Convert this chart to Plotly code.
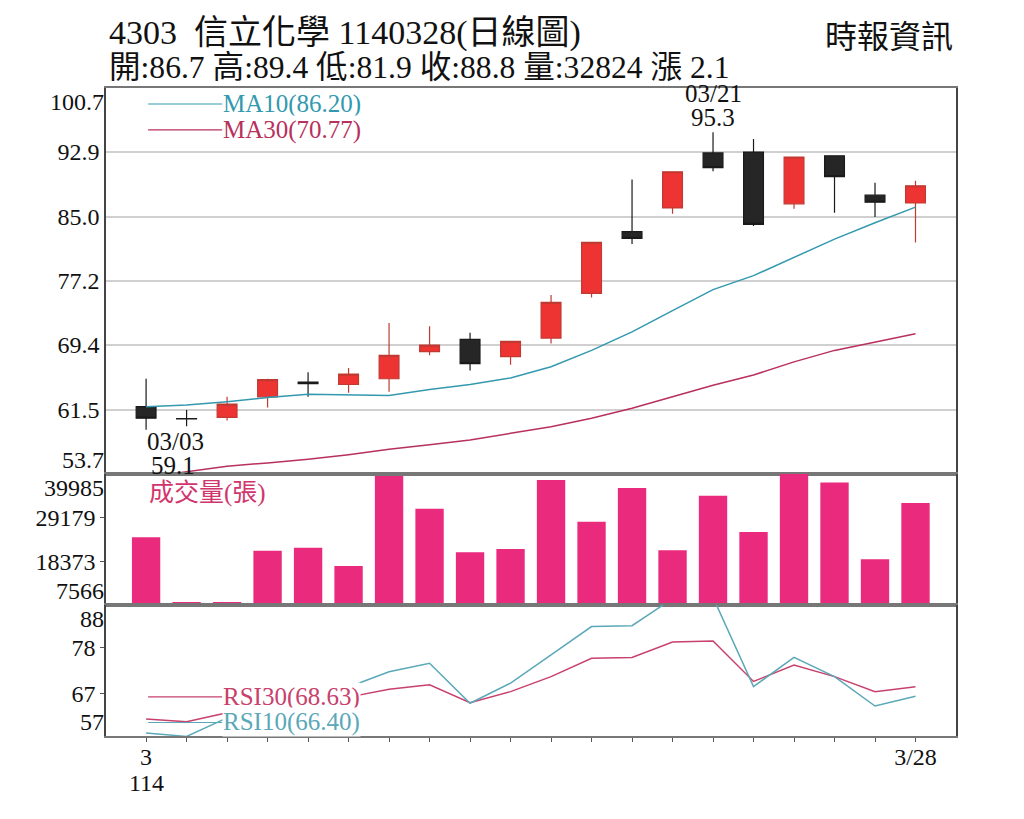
import plotly.graph_objects as go
from plotly.subplots import make_subplots

# 信立化學 (4303) daily, 2025-03 (ROC 114)
dates = ["03/03", "03/04", "03/05", "03/06", "03/07", "03/10", "03/11", "03/12", "03/13", "03/14",
         "03/17", "03/18", "03/19", "03/20", "03/21", "03/24", "03/25", "03/26", "03/27", "03/28"]
open_ = [61.9, 60.45, 60.6, 63.1, 64.9, 64.6, 65.3, 68.6, 70.1, 68.0,
         70.25, 75.7, 83.2, 86.1, 92.8, 92.9, 86.6, 92.45, 87.65, 86.7]
high = [65.3, 61.5, 63.1, 65.3, 66.1, 66.6, 72.1, 71.7, 70.9, 69.9,
        75.5, 81.9, 89.55, 90.5, 95.3, 94.5, 92.3, 92.45, 89.15, 89.4]
low = [59.1, 59.5, 60.2, 61.8, 63.1, 63.6, 63.7, 68.15, 66.3, 67.0,
       69.6, 75.2, 81.7, 85.4, 90.55, 83.9, 86.0, 85.5, 85.0, 81.9]
close = [60.5, 60.4, 62.2, 65.2, 64.7, 65.85, 68.15, 69.4, 67.15, 69.85,
         74.6, 81.9, 82.4, 90.5, 91.0, 84.1, 92.3, 89.9, 86.8, 88.8]
ma10 = [61.9, 62.1, 62.5, 63.0, 63.4, 63.3, 63.25, 64.0, 64.6, 65.4,
        66.75, 68.75, 71.0, 73.6, 76.15, 77.85, 80.05, 82.3, 84.3, 86.2]
ma30 = [53.3, 54.0, 54.65, 55.05, 55.5, 56.05, 56.7, 57.25, 57.85, 58.65,
        59.45, 60.5, 61.7, 63.1, 64.5, 65.75, 67.35, 68.75, 69.8, 70.77]
volume = [24306, 8308, 8308, 20996, 21736, 17211, 39500, 31381, 20599, 21415,
          38478, 28166, 36500, 21093, 34596, 25619, 40500, 37909, 18868, 32824]
rsi30 = [61.0, 60.4, 62.5, 65.0, 65.4, 66.2, 68.05, 69.1, 64.9, 67.5,
         71.05, 75.4, 75.6, 79.25, 79.5, 69.9, 73.8, 71.05, 67.5, 68.63]
rsi10 = [57.7, 56.9, 61.3, 66.0, 67.2, 68.6, 72.2, 74.2, 64.75, 69.5,
         76.2, 82.9, 83.1, 89.5, 89.8, 68.7, 75.6, 71.05, 64.1, 66.4]

price_ticks = [61.5, 69.4, 77.2, 85.0, 92.9]
price_range = [53.7, 100.7]
vol_ticks = [18373, 29179]
vol_range = [7566, 39985]
rsi_ticks = [67, 78]
rsi_range = [57, 88]
x_ticktext = ["3"] + [""] * 18 + ["3/28"]
year_label = "114"
change = "2.1"

FONT = "Liberation Serif, Noto Sans CJK TC, serif"
RED = "#ee3333"
DARK = "#262626"
PINK = "#ea2a7c"
MA10_C = "#3399ae"
MA30_C = "#b8305c"
RSI30_C = "#c8406c"
RSI10_C = "#5aa8b8"

idx = list(range(len(dates)))

fig = make_subplots(rows=3, cols=1, shared_xaxes=True, vertical_spacing=0,
                    row_heights=[386, 131, 131])

fig.add_trace(go.Candlestick(
    x=idx, open=open_, high=high, low=low, close=close,
    increasing=dict(line=dict(color="#c03a32", width=1.2), fillcolor=RED),
    decreasing=dict(line=dict(color="#1a1a1a", width=1.2), fillcolor=DARK),
    whiskerwidth=0, hoverinfo="skip", showlegend=False), row=1, col=1)
fig.add_trace(go.Scatter(x=idx, y=ma10, mode="lines",
                         line=dict(color=MA10_C, width=1.5)), row=1, col=1)
fig.add_trace(go.Scatter(x=idx, y=ma30, mode="lines",
                         line=dict(color=MA30_C, width=1.5)), row=1, col=1)
fig.add_trace(go.Bar(x=idx, y=volume, marker=dict(color=PINK, line=dict(width=0))),
              row=2, col=1)
fig.add_trace(go.Scatter(x=idx, y=rsi30, mode="lines",
                         line=dict(color=RSI30_C, width=1.5)), row=3, col=1)
fig.add_trace(go.Scatter(x=idx, y=rsi10, mode="lines",
                         line=dict(color=RSI10_C, width=1.5)), row=3, col=1)

tick_font = dict(family=FONT, size=24, color="#111")
xcommon = dict(range=[-0.99, 20.0], showline=True, linecolor="#777", linewidth=1.5,
               mirror=True, showgrid=False, zeroline=False)
fig.update_xaxes(**xcommon)
fig.update_xaxes(ticks="", row=1, col=1, rangeslider_visible=False)
fig.update_xaxes(ticks="", row=2, col=1)
fig.update_xaxes(ticks="outside", ticklen=4, tickcolor="#555", tickvals=idx,
                 ticktext=x_ticktext, tickfont=tick_font, showticklabels=True,
                 ticklabelstandoff=-6, row=3, col=1)

ycommon = dict(showline=True, linecolor="#444", linewidth=1.5, mirror=True,
               zeroline=False, tickfont=tick_font)
fig.update_yaxes(range=price_range, tickvals=price_ticks,
                 ticktext=[f"{v:.1f}" for v in price_ticks],
                 showgrid=True, gridcolor="#d0d0d0", gridwidth=1.5, ticks="",
                 **ycommon, row=1, col=1)
fig.update_yaxes(range=vol_range, tickvals=vol_ticks, ticktext=[str(v) for v in vol_ticks],
                 showgrid=False, ticks="outside", ticklen=4, tickcolor="#555",
                 **ycommon, row=2, col=1)
fig.update_yaxes(range=rsi_range, tickvals=rsi_ticks, ticktext=[str(v) for v in rsi_ticks],
                 showgrid=False, ticks="outside", ticklen=4, tickcolor="#555",
                 **ycommon, row=3, col=1)

ann = []
# edge labels of each panel, pushed inside the panel like the original
for yref, val, txt, anchor in [
    ("y", price_range[1], f"{price_range[1]}", "top"), ("y", price_range[0], f"{price_range[0]}", "bottom"),
    ("y2", vol_range[1], str(vol_range[1]), "top"), ("y2", vol_range[0], str(vol_range[0]), "bottom"),
    ("y3", rsi_range[1], str(rsi_range[1]), "top"), ("y3", rsi_range[0], str(rsi_range[0]), "bottom"),
]:
    ann.append(dict(xref="paper", yref=yref, x=0, y=val, text=txt, showarrow=False,
                    xanchor="right", yanchor=anchor, xshift=-1, borderpad=0, font=tick_font))

ann.append(dict(xref="x", yref="paper", x=0, y=-0.072, text=year_label, showarrow=False,
                xanchor="center", yanchor="middle", font=tick_font))

# high / low markers
note_font = dict(family=FONT, size=25, color="#111")
hi_i = high.index(max(high))
lo_i = low.index(min(low))
ann.append(dict(xref="x", yref="y", x=hi_i, y=high[hi_i], showarrow=False,
                text=dates[hi_i], yanchor="middle", yshift=39, font=note_font))
ann.append(dict(xref="x", yref="y", x=hi_i, y=high[hi_i], showarrow=False,
                text=f"{high[hi_i]}", yanchor="middle", yshift=15, font=note_font))
ann.append(dict(xref="x", yref="y", x=lo_i, y=low[lo_i], showarrow=False,
                text=dates[lo_i], yanchor="middle", xshift=29, yshift=-12, font=note_font))
ann.append(dict(xref="x", yref="y", x=lo_i, y=low[lo_i], showarrow=False,
                text=f"{low[lo_i]}", yanchor="middle", xshift=27, yshift=-36, font=note_font))

# legends
legend_items = [
    ("y", 98.75, f"MA10({ma10[-1]:.2f})", MA10_C),
    ("y", 95.6, f"MA30({ma30[-1]:.2f})", MA30_C),
    ("y3", 66.25, f"RSI30({rsi30[-1]:.2f})", RSI30_C),
    ("y3", 60.2, f"RSI10({rsi10[-1]:.2f})", RSI10_C),
]
shapes = []
for yref, yv, txt, col in legend_items:
    shapes.append(dict(type="line", xref="x", yref=yref, x0=0.05, x1=1.88, y0=yv, y1=yv,
                       line=dict(color=col, width=1.2)))
    ann.append(dict(xref="x", yref=yref, x=1.88, y=yv, text=txt, showarrow=False,
                    xanchor="left", yanchor="middle", bgcolor="white", borderpad=0,
                    font=dict(family=FONT, size=25, color=col)))
ann.append(dict(xref="x", yref="y2", x=0.02, y=vol_range[1], text="成交量(張)",
                showarrow=False, xanchor="left", yanchor="top", yshift=-3,
                font=dict(family=FONT, size=25, color="#d1356d")))

# header
ann.append(dict(xref="paper", yref="paper", x=0.001, y=1.085, text="4303  信立化學 1140328(日線圖)",
                showarrow=False, xanchor="left", yanchor="middle",
                font=dict(family=FONT, size=34, color="#111")))
ann.append(dict(xref="paper", yref="paper", x=0.001, y=1.032,
                text=f"開:{open_[-1]} 高:{high[-1]} 低:{low[-1]} 收:{close[-1]} 量:{volume[-1]} 漲 {change}",
                showarrow=False, xanchor="left", yanchor="middle",
                font=dict(family=FONT, size=31.6, color="#111")))
ann.append(dict(xref="paper", yref="paper", x=0.9988, y=1.079, text="時報資訊",
                showarrow=False, xanchor="right", yanchor="middle",
                font=dict(family=FONT, size=32, color="#111")))

# page body adds 8px, so margins are shifted to land the plot at 106..956 x 88..736
fig.update_layout(
    width=1024, height=819,
    margin=dict(l=98, r=76, t=80, b=91),
    paper_bgcolor="white", plot_bgcolor="white",
    showlegend=False, bargap=0.3, boxgap=0.3,
    annotations=ann, shapes=shapes,
    font=dict(family=FONT, color="#111"),
)

fig.write_html("out.html")
